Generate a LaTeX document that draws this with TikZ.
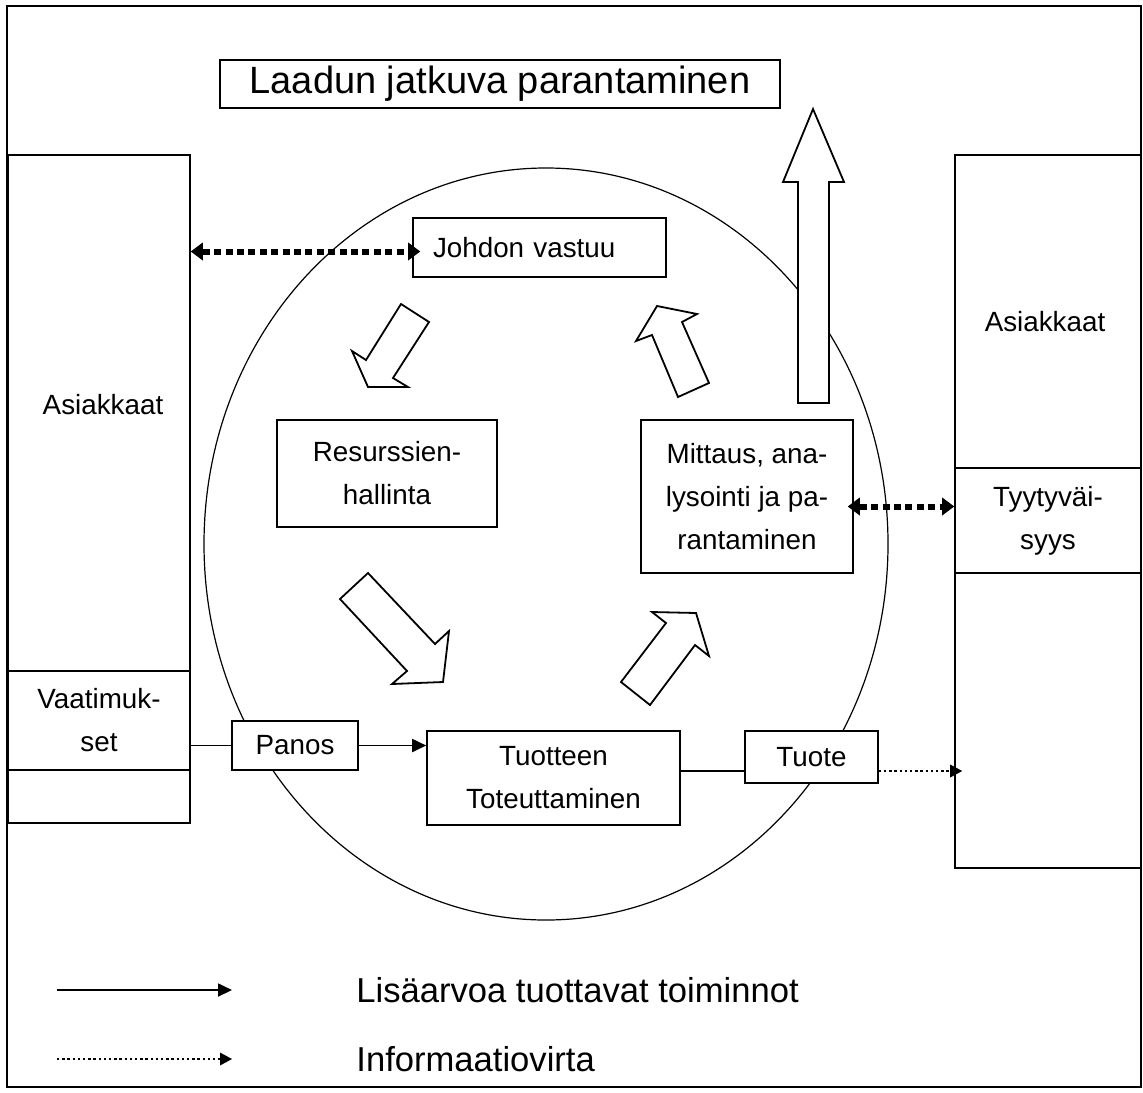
\documentclass[tikz,border=0pt]{standalone}
\usepackage{fontspec}
\setmainfont{Liberation Sans}
\usetikzlibrary{arrows.meta}

\begin{document}
\begin{tikzpicture}[
    x=0.5pt, y=-0.5pt,
    box/.style={draw, fill=white, line width=0.8pt, rectangle, inner sep=0pt, align=center, font=\fontsize{13.9}{21.5}\selectfont},
    txt/.style={inner sep=0pt, align=center, font=\fontsize{13.9}{21.5}\selectfont},
    legtxt/.style={inner sep=0pt, anchor=west, font=\fontsize{17.3}{21}\selectfont},
    flow/.style={-{Triangle[length=7pt,width=6.5pt]}, line width=0.9pt},
    info/.style={{Triangle[length=6pt,width=9pt,line width=0pt]}-{Triangle[length=6pt,width=9pt,line width=0pt]}, line width=3pt, dash pattern=on 3.5pt off 2.2pt},
    infoline/.style={-{Triangle[length=6pt,width=6.5pt,line width=0pt]}, line width=1.4pt, dash pattern=on 1.2pt off 1.4pt},
    blockarrow/.style={draw, fill=white, line width=0.9pt, line join=miter}
]
\useasboundingbox (0,0) rectangle (1143,1092);
\draw[line width=0.9pt] (7,6) rectangle (1141,1087);

% kehä
\draw[line width=0.6pt] (546,544) ellipse [x radius=171pt, y radius=188pt];

% otsikko
\node[box, minimum width=280pt, minimum height=24pt, font=\fontsize{19}{22}\selectfont] (title) at (500,84) {Laadun jatkuva parantaminen};

% asiakkaat vasen
\node[box, minimum width=91pt, minimum height=334pt] (leftcol) at (99,489) {};
\node[txt] (asiakL) at (103,405) {Asiakkaat};
\node[box, minimum width=91pt, minimum height=49.5pt] (vaat) at (99,720.5) {Vaatimuk-\\set};

% asiakkaat oikea
\node[box, minimum width=93pt, minimum height=356.5pt] (rightcol) at (1048,511.5) {};
\node[txt] (asiakR) at (1045,322) {Asiakkaat};
\node[box, minimum width=93pt, minimum height=52.5pt] (tyyt) at (1048,520.5) {Tyytyväi-\\syys};

% prosessit
\node[box, minimum width=126.5pt, minimum height=29.5pt, inner xsep=10pt, text width=106.5pt, align=left] (johdon) at (539.5,247.5) {Johdon vastuu};
\node[box, minimum width=110pt, minimum height=53.5pt] (resurs) at (387,473.5) {Resurssien-\\hallinta};
\node[box, minimum width=106pt, minimum height=76.5pt] (mittaus) at (747,496.5) {Mittaus, ana-\\lysointi ja pa-\\rantaminen};
\node[box, minimum width=126.5pt, minimum height=47pt] (tuot) at (553.5,778) {Tuotteen\\Toteuttaminen};
\node[box, minimum width=63pt, minimum height=24.5pt] (panos) at (295,745.5) {Panos};
\node[box, minimum width=66.5pt, minimum height=26pt] (tuote) at (811.5,757) {Tuote};

% kiertonuolet
\draw[blockarrow] (401,304) -- (429,322) -- (393,378) -- (408,387) -- (368,387) -- (352,351) -- (366,360) -- cycle;
\draw[blockarrow] (368,573) -- (435,644) -- (449,631) -- (443,682) -- (392,684) -- (407,671) -- (340,599) -- cycle;
\draw[blockarrow] (650,705) -- (695,645) -- (709,656) -- (696,613) -- (652,612) -- (666,623) -- (621,682) -- cycle;
\draw[blockarrow] (678,397) -- (709,383) -- (682,322) -- (697,314) -- (657,306) -- (636,341) -- (652,335) -- cycle;
\draw[blockarrow] (798,403) -- (798,182) -- (783,182) -- (813,109) -- (844,182) -- (829,182) -- (829,403) -- cycle;

% yhteydet
\draw[info, shorten >=-4pt] ([yshift=-2pt]leftcol.east |- johdon.west) -- ([yshift=-2pt]johdon.west);
\draw[info, shorten <=-3pt] ([yshift=-5pt]mittaus.east) -- ([yshift=-5pt]mittaus.east -| tyyt.west);
\draw[line width=0.6pt] (panos.west -| vaat.east) -- (panos.west);
\draw[flow] (panos.east) -- (panos.east -| tuot.west);
\draw[line width=0.6pt] ([yshift=-7pt]tuote.west -| tuot.east) -- ([yshift=-7pt]tuote.west);
\draw[infoline, shorten >=-4pt] ([yshift=-7pt]tuote.east) -- ([yshift=-7pt]tuote.east -| rightcol.west);

% selite
\coordinate (leg1) at (57,990);
\coordinate (leg1e) at (232,990);
\coordinate (leg2) at (57,1059);
\coordinate (leg2e) at (232,1059);
\draw[flow] (leg1) -- (leg1e);
\draw[infoline] (leg2) -- (leg2e);
\node[legtxt] (lisa) at (356,990) {Lisäarvoa tuottavat toiminnot};
\node[legtxt] (infovirta) at (356,1059) {Informaatiovirta};

\end{tikzpicture}
\end{document}
